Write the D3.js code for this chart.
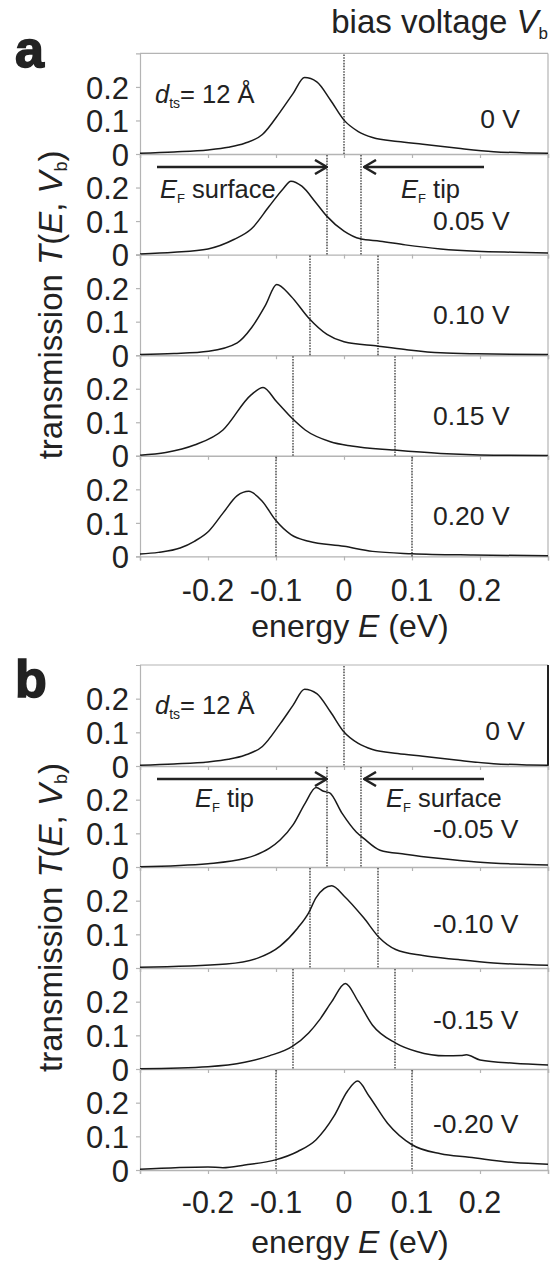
<!DOCTYPE html>
<html><head><meta charset="utf-8">
<script src="https://cdn.jsdelivr.net/npm/d3@7/dist/d3.min.js"></script>
<style>
html,body{margin:0;padding:0;background:#fff;}
svg text{font-family:"Liberation Sans",Arial,Helvetica,sans-serif;fill:#222;}
</style></head>
<body>
<svg id="chart" width="551" height="1268"></svg>
<script>
// ---- data ----
const energyTicks = [-0.2, -0.1, 0, 0.1, 0.2];
const energyTickLabels = ["-0.2", "-0.1", "0", "0.1", "0.2"];
const energyTickMarks = [-0.3, -0.2, -0.1, 0, 0.1, 0.2, 0.3];
const transTicks = [0, 0.1, 0.2];
const transTickLabels = ["0", "0.1", "0.2"];
const biasA = [0, 0.05, 0.10, 0.15, 0.20];
const biasB = [0, -0.05, -0.10, -0.15, -0.20];
const biasLabelsA = ["0 V", "0.05 V", "0.10 V", "0.15 V", "0.20 V"];
const biasLabelsB = ["0 V", "-0.05 V", "-0.10 V", "-0.15 V", "-0.20 V"];

// transmission curves [E (eV), T]
const curve0V = [[-0.3,0.002],[-0.25,0.006],[-0.2,0.012],[-0.17,0.02],[-0.146,0.032],[-0.12,0.058],[-0.094,0.125],[-0.075,0.18],[-0.058,0.228],[-0.04,0.215],[-0.02,0.161],[0,0.101],[0.021,0.067],[0.042,0.049],[0.079,0.037],[0.116,0.029],[0.168,0.017],[0.22,0.007],[0.273,0.003],[0.3,0.002]];
const curveA05 = [[-0.3,0.002],[-0.25,0.007],[-0.2,0.017],[-0.162,0.045],[-0.136,0.077],[-0.11,0.144],[-0.09,0.195],[-0.078,0.219],[-0.062,0.204],[-0.041,0.154],[-0.025,0.114],[0,0.07],[0.024,0.047],[0.053,0.04],[0.09,0.029],[0.142,0.017],[0.195,0.01],[0.25,0.007],[0.3,0.005]];
const curveA10 = [[-0.3,0.002],[-0.25,0.005],[-0.199,0.012],[-0.157,0.037],[-0.136,0.082],[-0.115,0.151],[-0.099,0.211],[-0.078,0.176],[-0.052,0.111],[-0.025,0.062],[0,0.04],[0.05,0.027],[0.09,0.017],[0.142,0.007],[0.195,0.004],[0.3,0.002]];
const curveA15 = [[-0.3,0.002],[-0.262,0.01],[-0.22,0.032],[-0.178,0.077],[-0.137,0.181],[-0.119,0.204],[-0.099,0.161],[-0.076,0.111],[-0.057,0.077],[-0.02,0.042],[0.011,0.029],[0.074,0.017],[0.142,0.007],[0.22,0.002],[0.3,0.001]];
const curveA20 = [[-0.3,0.007],[-0.273,0.012],[-0.241,0.025],[-0.22,0.045],[-0.199,0.075],[-0.178,0.129],[-0.157,0.181],[-0.14,0.194],[-0.12,0.164],[-0.101,0.109],[-0.078,0.065],[-0.052,0.045],[0,0.03],[0.042,0.015],[0.1,0.008],[0.19,0.004],[0.3,0.002]];
const curveB05 = [[-0.3,0.001],[-0.2,0.01],[-0.146,0.025],[-0.11,0.055],[-0.094,0.08],[-0.075,0.125],[-0.057,0.19],[-0.041,0.236],[-0.03,0.225],[-0.021,0.22],[-0.003,0.16],[0.018,0.104],[0.029,0.085],[0.053,0.05],[0.09,0.038],[0.142,0.025],[0.195,0.015],[0.25,0.009],[0.3,0.006]];
const curveB10 = [[-0.3,0.002],[-0.173,0.012],[-0.126,0.03],[-0.094,0.065],[-0.068,0.119],[-0.052,0.164],[-0.041,0.209],[-0.018,0.244],[0,0.214],[0.029,0.149],[0.052,0.09],[0.076,0.055],[0.116,0.037],[0.168,0.025],[0.22,0.015],[0.3,0.008]];
const curveB15 = [[-0.3,0.001],[-0.2,0.007],[-0.146,0.02],[-0.11,0.039],[-0.076,0.067],[-0.052,0.107],[-0.036,0.146],[-0.018,0.2],[0.002,0.254],[0.021,0.2],[0.042,0.13],[0.076,0.077],[0.107,0.052],[0.149,0.039],[0.172,0.04],[0.18,0.042],[0.2,0.027],[0.25,0.017],[0.3,0.012]];
const curveB20 = [[-0.3,0.002],[-0.2,0.009],[-0.178,0.007],[-0.146,0.015],[-0.101,0.03],[-0.068,0.055],[-0.041,0.09],[-0.015,0.159],[0.005,0.234],[0.02,0.264],[0.037,0.219],[0.064,0.139],[0.1,0.075],[0.142,0.048],[0.184,0.038],[0.25,0.022],[0.3,0.017]];
const curvesA = [curve0V, curveA05, curveA10, curveA15, curveA20];
const curvesB = [curve0V, curveB05, curveB10, curveB15, curveB20];

// ---- drawing ----
const svg = d3.select("#chart");
const x = d3.scaleLinear().domain([-0.3, 0.3]).range([140, 548]);
const GRAY = "#b4b4b4";

svg.append("defs").append("marker")
  .attr("id","chev").attr("viewBox","0 0 14 16").attr("refX",13).attr("refY",8)
  .attr("markerWidth",14).attr("markerHeight",16).attr("markerUnits","userSpaceOnUse").attr("orient","auto")
  .append("path").attr("d","M1,1 L13,8 L1,15").attr("fill","none").attr("stroke","#222").attr("stroke-width",2.5);

function subText(g, parts, attrs){
  const t = g.append("text");
  Object.entries(attrs).forEach(([k,v]) => t.attr(k,v));
  parts.forEach(p => {
    const s = t.append("tspan").text(p.t);
    if (p.i) s.attr("font-style","italic");
    if (p.sub) s.attr("font-size", p.sub).attr("dy", p.dy || 4);
    if (p.up) s.attr("dy", p.up);
  });
  return t;
}

function drawGroup(top, h, bias, labels, curves, letter, arrowTexts, opts){
  const g = svg.append("g");
  const n = bias.length;
  const bottom = top + h*n;
  g.append("text").text(letter).attr("x",15).attr("y",top+opts.letterDy)
    .attr("font-size",52).attr("font-weight","bold").style("fill","#222")
    .attr("stroke","#222").attr("stroke-width",1.6);
  for (let i=0;i<n;i++){
    const t0 = top + h*i;
    const y = d3.scaleLinear().domain([0,0.3]).range([t0+h, t0]);
    const pg = g.append("g");
    if (i===0) pg.append("line").attr("x1",x(-0.3)).attr("x2",x(0.3)).attr("y1",t0).attr("y2",t0).attr("stroke",GRAY).attr("stroke-width",1.2);
    pg.append("line").attr("x1",x(0.3)).attr("x2",x(0.3)).attr("y1",t0).attr("y2",t0+h)
      .attr("stroke", (i===0 && opts.darkRight) ? "#222" : GRAY).attr("stroke-width",(i===0 && opts.darkRight)?2:1.2);
    // y axis
    const ya = d3.axisLeft(y).tickValues(transTicks).tickSize(4).tickPadding(7)
      .tickFormat((d,k) => transTickLabels[k]);
    const yg = pg.append("g").attr("transform",`translate(${x(-0.3)},0)`).call(ya);
    yg.select(".domain").attr("stroke",GRAY).attr("stroke-width",1.2);
    yg.selectAll(".tick line").attr("stroke",GRAY).attr("stroke-width",1.2);
    yg.selectAll(".tick text").attr("font-size",31).attr("fill","#222").attr("dy","0.36em").attr("x",-11);
    // x axis at bottom of each panel
    const xa = d3.axisBottom(x).tickValues(energyTickMarks).tickSize(4).tickFormat("");
    const xg = pg.append("g").attr("transform",`translate(0,${t0+h})`).call(xa);
    xg.select(".domain").attr("stroke",GRAY).attr("stroke-width",1.4);
    xg.selectAll(".tick line").attr("stroke",GRAY).attr("stroke-width",1.2);
    // dotted Fermi-level lines at ±|Vb|/2
    const V = Math.abs(bias[i]);
    const fl = V === 0 ? [0] : [-V/2, V/2];
    fl.forEach(e => pg.append("line").attr("x1",x(e)).attr("x2",x(e)).attr("y1",t0+1).attr("y2",t0+h)
      .attr("stroke","#222").attr("stroke-width",1.2).attr("stroke-dasharray","1.6,1.2"));
    // curve
    const line = d3.line().x(d=>x(d[0])).y(d=>y(d[1])).curve(d3.curveMonotoneX);
    pg.append("path").datum(curves[i]).attr("d",line).attr("fill","none").attr("stroke","#1a1a1a").attr("stroke-width",1.5);
    // bias label
    const lab = pg.append("text").text(labels[i]).attr("font-size",26.5).attr("y",y(opts.labelT[i]));
    if (i===0) lab.attr("x",opts.zeroLabelX).attr("text-anchor","end");
    else lab.attr("x",433);
    if (i===0){
      subText(pg,[{t:"d",i:true},{t:"ts",sub:14,dy:5},{t:"= 12 Å",up:-5}],{x:155,y:y(0.153),"font-size":25.5});
    }
  }
  // arrows between panel 0 and 1
  const ya1 = top + h + 13;
  const xL = x(-Math.abs(bias[1])/2), xR = x(Math.abs(bias[1])/2);
  g.append("line").attr("x1",157).attr("x2",xL).attr("y1",ya1).attr("y2",ya1)
    .attr("stroke","#222").attr("stroke-width",2.5).attr("marker-end","url(#chev)");
  g.append("line").attr("x1",484).attr("x2",xR+3).attr("y1",ya1).attr("y2",ya1)
    .attr("stroke","#222").attr("stroke-width",2.5).attr("marker-end","url(#chev)");
  const tb = top + h + opts.arrowTextDy;
  subText(g,[{t:"E",i:true},{t:"F",sub:13,dy:5},{t:" "+arrowTexts[0],up:-5}],{x:opts.leftTextX,y:tb,"font-size":25.5});
  subText(g,[{t:"E",i:true},{t:"F",sub:13,dy:5},{t:" "+arrowTexts[1],up:-5}],{x:opts.rightTextX,y:tb,"font-size":25.5});
  // x tick labels
  energyTicks.forEach((e,k) => g.append("text").text(energyTickLabels[k]).attr("x",x(e)).attr("y",bottom+opts.tickDy)
    .attr("text-anchor","middle").attr("font-size",30.5));
  // x title
  subText(g,[{t:"energy "},{t:"E",i:true},{t:" (eV)"}],{x:350,y:bottom+opts.titleDy,"text-anchor":"middle","font-size":32});
  // y title
  const yc = (top+bottom)/2;
  subText(g,[{t:"transmission "},{t:"T",i:true},{t:"("},{t:"E",i:true},{t:", "},{t:"V",i:true},{t:"b",sub:18,dy:5},{t:")",up:-5}],
    {transform:`translate(62,${yc}) rotate(-90)`,"text-anchor":"middle","font-size":33});
}

// header
subText(svg,[{t:"bias voltage "},{t:"V",i:true},{t:"b",sub:17,dy:6}],{x:548,y:33,"text-anchor":"end","font-size":33});

drawGroup(53.4, 100.6, biasA, biasLabelsA, curvesA, "a", ["surface","tip"],
  {letterDy:14, darkRight:false, zeroLabelX:520, labelT:[0.078,0.073,0.092,0.091,0.094],
   leftTextX:160, rightTextX:401, arrowTextDy:44, tickDy:45, titleDy:81});
drawGroup(665, 101, biasB, biasLabelsB, curvesB, "b", ["tip","surface"],
  {letterDy:32, darkRight:true, zeroLabelX:525, labelT:[0.078,0.087,0.104,0.12,0.11],
   leftTextX:195, rightTextX:386, arrowTextDy:41, tickDy:43, titleDy:83});
</script>
</body></html>
